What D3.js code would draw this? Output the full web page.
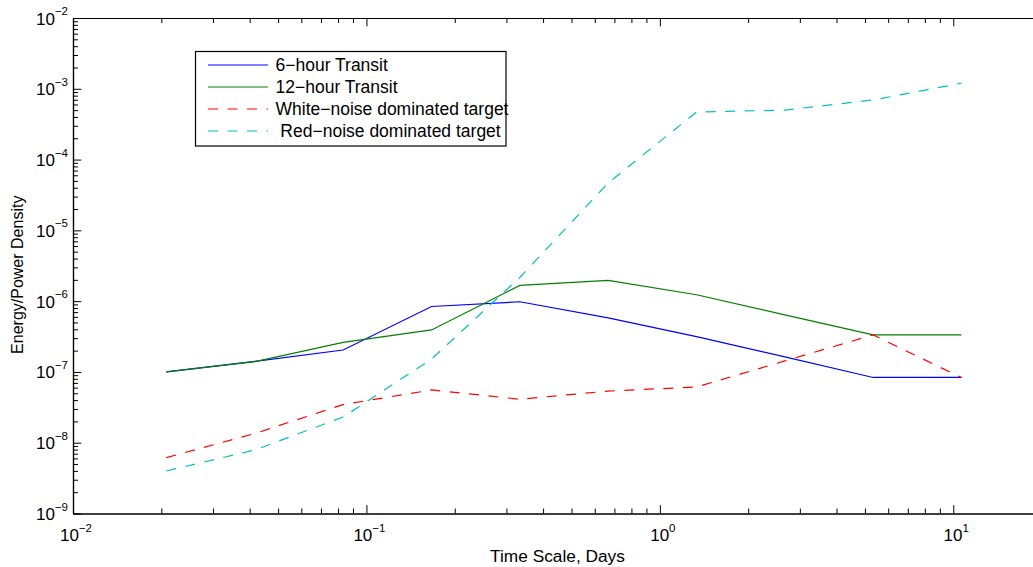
<!DOCTYPE html>
<html>
<head>
<meta charset="utf-8">
<script src="https://cdn.jsdelivr.net/npm/d3@7"></script>
<style>
  html, body { margin: 0; padding: 0; background: #fff; }
  svg { display: block; font-family: "Liberation Sans", Arial, Helvetica, sans-serif; }
</style>
</head>
<body>
<svg id="chart" width="1033" height="567"></svg>
<script>
// Time scales (days) at which each curve is sampled
const timeScaleDays = [0.0208, 0.0417, 0.0833, 0.1667, 0.3333, 0.6667, 1.3333, 2.6667, 5.3333, 10.6667];

// Energy / power density per curve
const transit6h   = [1.0e-7, 1.41e-7, 2.04e-7, 8.4e-7, 9.8e-7, 5.8e-7, 3.15e-7, 1.63e-7, 8.35e-8, 8.35e-8];
const transit12h  = [1.0e-7, 1.40e-7, 2.62e-7, 3.92e-7, 1.67e-6, 1.97e-6, 1.23e-6, 6.4e-7, 3.33e-7, 3.33e-7];
const whiteNoise  = [6.15e-9, 1.35e-8, 3.46e-8, 5.56e-8, 4.11e-8, 5.37e-8, 6.12e-8, 1.43e-7, 3.33e-7, 8.3e-8];
const redNoise    = [3.99e-9, 7.9e-9, 2.31e-8, 1.52e-7, 2.16e-6, 4.67e-5, 4.7e-4, 5.0e-4, 6.95e-4, 1.2e-3];

const seriesNames = ["6\u2212hour Transit", "12\u2212hour Transit",
                     "White\u2212noise dominated target", " Red\u2212noise dominated target"];

// Axis tick labels (base 10 with exponent)
const xMajorTicks = [0.01, 0.1, 1, 10];
const xTickExponents = ["\u22122", "\u22121", "0", "1"];
const yMajorTicks = [1e-9, 1e-8, 1e-7, 1e-6, 1e-5, 1e-4, 1e-3, 1e-2];
const yTickExponents = ["\u22129", "\u22128", "\u22127", "\u22126", "\u22125", "\u22124", "\u22123", "\u22122"];

const xTitle = "Time Scale, Days";
const yTitle = "Energy/Power Density";

// ---- layout ----
const svg = d3.select("#chart");
const plotLeft = 73, plotTop = 18, plotRight = 1041.6, plotBottom = 513.5;

const x = d3.scaleLog().domain([0.01, 20]).range([plotLeft, plotRight]);
const y = d3.scaleLog().domain([1e-9, 1e-2]).range([plotBottom, plotTop]);

function minorsBetween(lo, hi) {
  const out = [];
  for (let p = Math.round(Math.log10(lo)); p < Math.round(Math.log10(hi)); p++) {
    for (let m = 2; m <= 9; m++) out.push(m * Math.pow(10, p));
  }
  return out;
}
const xMinor = minorsBetween(0.01, 100).filter(v => v <= 20);
const yMinor = minorsBetween(1e-9, 1e-2);

const MAJ = 8.3, MIN = 5;
const blank = () => "";

function styleAxis(g) {
  g.selectAll("path.domain").attr("stroke", "#000").attr("stroke-width", 1.2);
  g.selectAll(".tick line").attr("stroke", "#000").attr("stroke-width", 1);
  g.selectAll(".tick text").remove();
}

// bottom
svg.append("g").attr("transform", `translate(0,${plotBottom})`)
  .call(d3.axisBottom(x).tickValues(xMajorTicks).tickSizeInner(-MAJ).tickSizeOuter(0).tickFormat(blank)).call(styleAxis);
svg.append("g").attr("transform", `translate(0,${plotBottom})`)
  .call(d3.axisBottom(x).tickValues(xMinor).tickSizeInner(-MIN).tickSizeOuter(0).tickFormat(blank)).call(styleAxis);
// top
svg.append("g").attr("transform", `translate(0,${plotTop})`)
  .call(d3.axisTop(x).tickValues(xMajorTicks).tickSizeInner(-MAJ).tickSizeOuter(0).tickFormat(blank)).call(styleAxis);
svg.append("g").attr("transform", `translate(0,${plotTop})`)
  .call(d3.axisTop(x).tickValues(xMinor).tickSizeInner(-MIN).tickSizeOuter(0).tickFormat(blank)).call(styleAxis);
// left
svg.append("g").attr("transform", `translate(${plotLeft},0)`)
  .call(d3.axisLeft(y).tickValues(yMajorTicks).tickSizeInner(-MAJ).tickSizeOuter(0).tickFormat(blank)).call(styleAxis);
svg.append("g").attr("transform", `translate(${plotLeft},0)`)
  .call(d3.axisLeft(y).tickValues(yMinor).tickSizeInner(-MIN).tickSizeOuter(0).tickFormat(blank)).call(styleAxis);
// right
svg.append("g").attr("transform", `translate(${plotRight},0)`)
  .call(d3.axisRight(y).tickValues(yMajorTicks).tickSizeInner(-MAJ).tickSizeOuter(0).tickFormat(blank)).call(styleAxis);
svg.append("g").attr("transform", `translate(${plotRight},0)`)
  .call(d3.axisRight(y).tickValues(yMinor).tickSizeInner(-MIN).tickSizeOuter(0).tickFormat(blank)).call(styleAxis);

// ---- tick labels with superscript exponents ----
function powerLabel(sel, exps) {
  sel.append("tspan").text("10");
  sel.append("tspan").attr("dy", -9.5).attr("font-size", 11.5).text((d, i) => exps[i]);
}

svg.append("g").selectAll("text").data(xMajorTicks).join("text")
  .attr("x", d => x(d) + 3).attr("y", 541)
  .attr("text-anchor", "middle").attr("font-size", 17).attr("fill", "#000")
  .call(powerLabel, xTickExponents);

svg.append("g").selectAll("text").data(yMajorTicks).join("text")
  .attr("x", plotLeft - 5).attr("y", d => y(d) + 6.5)
  .attr("text-anchor", "end").attr("font-size", 17).attr("fill", "#000")
  .call(powerLabel, yTickExponents);

// ---- axis titles ----
svg.append("text").attr("x", 557.5).attr("y", 562)
  .attr("text-anchor", "middle").attr("font-size", 17.3).attr("fill", "#000").text(xTitle);
svg.append("text").attr("transform", `translate(23,${(plotTop + plotBottom) / 2 + 9}) rotate(-90)`)
  .attr("text-anchor", "middle").attr("font-size", 16).attr("fill", "#000").text(yTitle);

// ---- data lines ----
svg.append("clipPath").attr("id", "plotClip").append("rect")
  .attr("x", plotLeft).attr("y", plotTop).attr("width", plotRight - plotLeft).attr("height", plotBottom - plotTop);

const series = [
  { name: seriesNames[0], values: transit6h,  color: "#0000ff", dash: null },
  { name: seriesNames[1], values: transit12h, color: "#008000", dash: null },
  { name: seriesNames[2], values: whiteNoise, color: "#ff0000", dash: "10,9.5" },
  { name: seriesNames[3], values: redNoise,   color: "#00bfbf", dash: "10,9.5" }
];

const line = d3.line().x(d => x(d[0])).y(d => y(d[1]));
const plot = svg.append("g").attr("clip-path", "url(#plotClip)");
plot.selectAll("path").data(series).join("path")
  .attr("d", s => line(timeScaleDays.map((t, i) => [t, s.values[i]])))
  .attr("fill", "none")
  .attr("stroke", s => s.color)
  .attr("stroke-width", 1.2)
  .attr("stroke-dasharray", s => s.dash);

// ---- legend ----
const legend = svg.append("g");
legend.append("rect").attr("x", 195.5).attr("y", 51.5).attr("width", 310.5).attr("height", 94.5)
  .attr("fill", "#fff").attr("stroke", "#000").attr("stroke-width", 1.2);
const rowY = i => 65 + i * 22;
const items = legend.selectAll("g.item").data(series).join("g").attr("class", "item");
items.append("line")
  .attr("x1", 208).attr("x2", 268)
  .attr("y1", (d, i) => rowY(i)).attr("y2", (d, i) => rowY(i))
  .attr("stroke", d => d.color).attr("stroke-width", 1.2)
  .attr("stroke-dasharray", d => d.dash);
items.append("text")
  .attr("x", 275.5).attr("y", (d, i) => rowY(i) + 6.3)
  .attr("font-size", 17.5).attr("fill", "#000")
  .style("white-space", "pre")
  .text(d => d.name);
</script>
</body>
</html>
